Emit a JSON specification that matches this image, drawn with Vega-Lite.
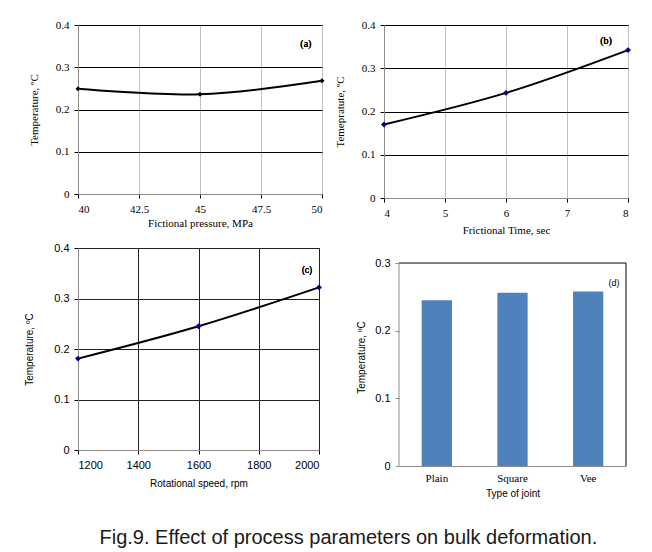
{
  "$schema": "https://vega.github.io/schema/vega-lite/v6.json",
  "background": "white",
  "padding": {"left": 24, "top": 18, "right": 5, "bottom": 5},
  "bounds": "full",
  "spacing": 5,
  "title": {"text": "Fig.9. Effect of process parameters on bulk deformation.", "orient": "bottom", "anchor": "middle", "font": "Liberation Sans", "fontSize": 20, "fontWeight": "normal", "color": "#1a1a1a", "offset": 30, "dx": 20},
  "datasets": {
    "pressure": [{"Pressure": 40, "Temp": 0.249}, {"Pressure": 45, "Temp": 0.236}, {"Pressure": 50, "Temp": 0.268}],
    "time": [{"Time": 4, "Temp": 0.17}, {"Time": 6, "Temp": 0.243}, {"Time": 8, "Temp": 0.342}],
    "speed": [{"Speed": 1200, "Temp": 0.181}, {"Speed": 1600, "Temp": 0.245}, {"Speed": 2000, "Temp": 0.322}],
    "joint": [{"Joint": "Plain", "Temp": 0.245}, {"Joint": "Square", "Temp": 0.256}, {"Joint": "Vee", "Temp": 0.258}]
  },
  "config": {
    "view": {"stroke": "#A0A0A0", "strokeWidth": 1},
    "axis": {"labelFont": "Liberation Serif", "labelFontSize": 11, "labelColor": "#000", "titleFont": "Liberation Serif", "titleFontSize": 11, "titleFontWeight": "normal", "titleColor": "#000", "domainColor": "#8C8C8C", "tickColor": "#000", "tickSize": 4, "labelPadding": 5, "gridColor": "#000", "gridOpacity": 1}
  },
  "vconcat": [
    {
      "bounds": "flush",
      "spacing": 62,
      "hconcat": [
        {
          "width": 244, "height": 169,
          "data": {"name": "pressure"},
          "layer": [
            {"mark": {"type": "line", "interpolate": "catmull-rom", "color": "#000", "strokeWidth": 2},
             "encoding": {
               "x": {"field": "Pressure", "type": "quantitative", "scale": {"domain": [40, 50], "nice": false, "zero": false}, "axis": {"values": [40, 42.5, 45, 47.5, 50], "format": ".1~f", "title": "Fictional pressure, MPa", "gridColor": "#BFBFBF", "titlePadding": 3}},
               "y": {"field": "Temp", "type": "quantitative", "scale": {"domain": [0, 0.4], "nice": false}, "axis": {"values": [0, 0.1, 0.2, 0.3, 0.4], "format": ".1~f", "title": "Temperature, ºC", "titlePadding": 16}}
             }},
            {"mark": {"type": "point", "shape": "diamond", "filled": true, "color": "#000", "size": 25, "opacity": 1},
             "encoding": {"x": {"field": "Pressure", "type": "quantitative"}, "y": {"field": "Temp", "type": "quantitative"}}},
            {"mark": {"type": "text", "text": "(a)", "font": "Liberation Serif", "fontSize": 10, "color": "#000"},
             "encoding": {"x": {"datum": 49.34, "type": "quantitative"}, "y": {"datum": 0.355, "type": "quantitative"}}}
          ]
        },
        {
          "width": 244, "height": 173,
          "data": {"name": "time"},
          "layer": [
            {"mark": {"type": "line", "interpolate": "catmull-rom", "color": "#000", "strokeWidth": 2},
             "encoding": {
               "x": {"field": "Time", "type": "quantitative", "scale": {"domain": [4, 8], "nice": false, "zero": false}, "axis": {"values": [4, 5, 6, 7, 8], "format": "d", "title": "Frictional Time, sec", "gridColor": "#BFBFBF", "titlePadding": 6}},
               "y": {"field": "Temp", "type": "quantitative", "scale": {"domain": [0, 0.4], "nice": false}, "axis": {"values": [0, 0.1, 0.2, 0.3, 0.4], "format": ".1~f", "title": "Temepratute, ºC", "titlePadding": 16}}
             }},
            {"mark": {"type": "point", "shape": "diamond", "filled": true, "color": "#00008B", "size": 35, "opacity": 1},
             "encoding": {"x": {"field": "Time", "type": "quantitative"}, "y": {"field": "Temp", "type": "quantitative"}}},
            {"mark": {"type": "text", "text": "(b)", "font": "Liberation Serif", "fontSize": 10, "color": "#000"},
             "encoding": {"x": {"datum": 7.64, "type": "quantitative"}, "y": {"datum": 0.363, "type": "quantitative"}}}
          ]
        }
      ]
    },
    {
      "bounds": "flush",
      "spacing": 80,
      "hconcat": [
        {
          "width": 241, "height": 202,
          "data": {"name": "speed"},
          "layer": [
            {"mark": {"type": "line", "interpolate": "catmull-rom", "color": "#000", "strokeWidth": 2},
             "encoding": {
               "x": {"field": "Speed", "type": "quantitative", "scale": {"domain": [1200, 2000], "nice": false, "zero": false}, "axis": {"values": [1200, 1400, 1600, 1800, 2000], "format": "d", "title": "Rotational speed, rpm", "labelFont": "Liberation Sans", "titleFont": "Liberation Sans", "titleFontSize": 10, "gridColor": "#222", "titlePadding": 8}},
               "y": {"field": "Temp", "type": "quantitative", "scale": {"domain": [0, 0.4], "nice": false}, "axis": {"values": [0, 0.1, 0.2, 0.3, 0.4], "format": ".1~f", "title": "Temperature, ºC", "labelFont": "Liberation Sans", "titleFont": "Liberation Sans", "titleFontSize": 10, "gridColor": "#222", "titlePadding": 19}}
             }},
            {"mark": {"type": "point", "shape": "diamond", "filled": true, "color": "#00008B", "size": 35, "opacity": 1},
             "encoding": {"x": {"field": "Speed", "type": "quantitative"}, "y": {"field": "Temp", "type": "quantitative"}}},
            {"mark": {"type": "text", "text": "(c)", "font": "Liberation Sans", "fontSize": 9, "color": "#000"},
             "encoding": {"x": {"datum": 1960, "type": "quantitative"}, "y": {"datum": 0.356, "type": "quantitative"}}}
          ]
        },
        {
          "width": 227, "height": 218,
          "view": {"stroke": null},
          "layer": [
            {
              "data": {"name": "joint"},
              "mark": {"type": "bar", "color": "#4F81BD"},
              "encoding": {
                "x": {"field": "Joint", "type": "nominal", "sort": null, "scale": {"paddingInner": 0.6, "paddingOuter": 0.3}, "axis": {"title": "Type of joint", "labelAngle": 0, "labelFont": "Liberation Serif", "labelFontSize": 11, "titleFont": "Liberation Sans", "titleFontSize": 10, "ticks": false, "labelPadding": 6, "titlePadding": 5, "domainColor": "#8C8C8C", "grid": false}},
                "y": {"field": "Temp", "type": "quantitative", "scale": {"domain": [0, 0.3222], "nice": false}, "axis": {"values": [0, 0.1, 0.2, 0.3], "format": ".1~f", "domain": false, "grid": false, "title": "Temperature, ºC", "labelFont": "Liberation Sans", "titleFont": "Liberation Sans", "titleFontSize": 10, "tickColor": "#8C8C8C", "titlePadding": 8}}
              }
            },
            {
              "data": {"values": [{}]},
              "layer": [
                {"mark": {"type": "rule", "color": "#000", "strokeWidth": 1},
                 "encoding": {"x": {"datum": 0, "type": "quantitative", "scale": {"domain": [0, 1], "nice": false}, "axis": null}, "x2": {"datum": 1}, "y": {"datum": 0.3, "type": "quantitative"}}},
                {"mark": {"type": "rule", "color": "#000", "strokeWidth": 1},
                 "encoding": {"x": {"datum": 1, "type": "quantitative", "scale": {"domain": [0, 1], "nice": false}, "axis": null}, "y": {"datum": 0, "type": "quantitative"}, "y2": {"datum": 0.3}}},
                {"mark": {"type": "rule", "color": "#8C8C8C", "strokeWidth": 1},
                 "encoding": {"x": {"datum": 0, "type": "quantitative", "scale": {"domain": [0, 1], "nice": false}, "axis": null}, "y": {"datum": 0, "type": "quantitative"}, "y2": {"datum": 0.3}}},
                {"mark": {"type": "text", "text": "(d)", "font": "Liberation Sans", "fontSize": 9, "color": "#000"},
                 "encoding": {"x": {"datum": 0.947, "type": "quantitative", "scale": {"domain": [0, 1], "nice": false}, "axis": null}, "y": {"datum": 0.27, "type": "quantitative"}}}
              ]
            }
          ],
          "resolve": {"scale": {"x": "independent"}, "axis": {"x": "independent"}}
        }
      ]
    }
  ]
}
